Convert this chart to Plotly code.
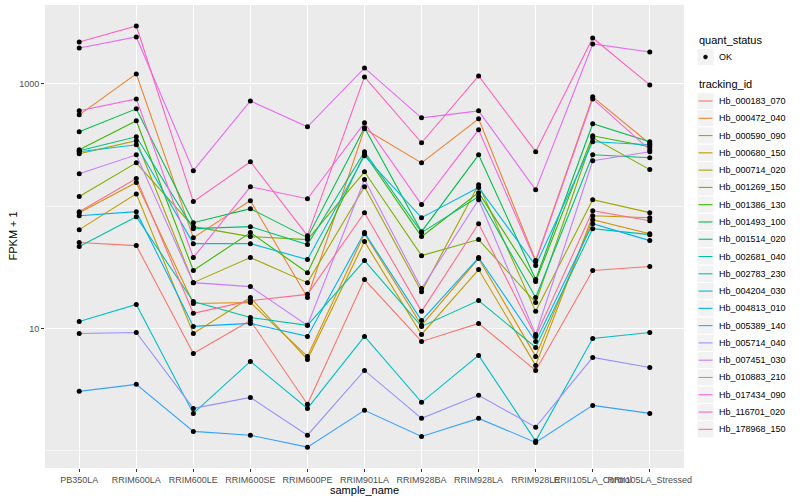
import plotly.graph_objects as go

samples = ["PB350LA", "RRIM600LA", "RRIM600LE", "RRIM600SE", "RRIM600PE", "RRIM901LA",
           "RRIM928BA", "RRIM928LA", "RRIM928LE", "RRII105LA_Control", "RRII105LA_Stressed"]

tracking_ids = ["Hb_000183_070", "Hb_000472_040", "Hb_000590_090", "Hb_000680_150",
                "Hb_000714_020", "Hb_001269_150", "Hb_001386_130", "Hb_001493_100",
                "Hb_001514_020", "Hb_002681_040", "Hb_002783_230", "Hb_004204_030",
                "Hb_004813_010", "Hb_005389_140", "Hb_005714_040", "Hb_007451_030",
                "Hb_010883_210", "Hb_017434_090", "Hb_116701_020", "Hb_178968_150"]

colors = ["#F8766D", "#EA8331", "#D89000", "#C09B00", "#A3A500", "#7CAE00", "#39B600",
          "#00BB4E", "#00BF7D", "#00C1A3", "#00BFC4", "#00BAE0", "#00B0F6", "#35A2FF",
          "#9590FF", "#C77CFF", "#E76BF3", "#FA62DB", "#FF62BC", "#FF6C91"]

# FPKM + 1 per tracking_id, in sample order
Hb_000183_070 = [50.4, 47.6, 6.25, 11.6, 2.40, 25.1, 7.83, 11.0, 4.54, 29.8, 32.1]
Hb_000472_040 = [558, 1207, 55.3, 111, 17.9, 429, 226, 518, 35.9, 783, 324]
Hb_000590_090 = [88.5, 156, 16.0, 16.3, 5.91, 59.6, 10.6, 37.3, 5.91, 77.6, 59.6]
Hb_000680_150 = [64.3, 126, 9.10, 17.9, 5.58, 51.3, 8.93, 30.3, 4.99, 83.6, 80.5]
Hb_000714_020 = [268, 343, 23.7, 38.0, 23.7, 144, 20.0, 150, 13.8, 113, 88.5]
Hb_001269_150 = [120, 226, 68.0, 56.4, 53.3, 191, 39.4, 53.3, 16.3, 362, 199]
Hb_001386_130 = [289, 499, 29.8, 60.8, 28.6, 268, 56.4, 129, 24.2, 376, 306]
Hb_001493_100 = [406, 625, 73.3, 95.4, 55.3, 437, 61.9, 263, 25.1, 472, 336]
Hb_001514_020 = [284, 369, 65.5, 68.0, 48.5, 279, 60.8, 120, 17.9, 263, 249]
Hb_002681_040 = [46.7, 82.1, 16.6, 12.3, 10.6, 35.9, 10.4, 16.9, 7.00, 65.5, 58.5]
Hb_002783_230 = [11.4, 15.7, 2.02, 5.38, 2.22, 8.61, 2.49, 6.02, 1.20, 8.29, 9.27]
Hb_004204_030 = [279, 318, 49.4, 49.4, 36.6, 258, 80.5, 142, 32.7, 336, 318]
Hb_004813_010 = [83.6, 90.2, 10.4, 11.0, 8.61, 60.8, 11.6, 38.0, 7.83, 71.9, 52.3]
Hb_005389_140 = [3.06, 3.49, 1.44, 1.34, 1.07, 2.14, 1.31, 1.84, 1.17, 2.35, 2.02]
Hb_005714_040 = [9.10, 9.27, 2.22, 2.73, 1.34, 4.54, 1.84, 2.84, 1.56, 5.80, 4.80]
Hb_007451_030 = [184, 263, 23.7, 22.0, 10.6, 165, 21.2, 113, 8.93, 235, 279]
Hb_010883_210 = [1967, 2420, 195, 726, 446, 1351, 528, 602, 136, 2121, 1825]
Hb_017434_090 = [602, 754, 38.0, 144, 115, 480, 103, 421, 35.2, 754, 289]
Hb_116701_020 = [2202, 2975, 109, 231, 57.4, 1140, 330, 1162, 279, 2374, 981]
Hb_178968_150 = [90.2, 168, 13.3, 16.9, 19.0, 88.5, 13.8, 71.9, 8.61, 91.9, 76.1]

series = [Hb_000183_070, Hb_000472_040, Hb_000590_090, Hb_000680_150, Hb_000714_020,
          Hb_001269_150, Hb_001386_130, Hb_001493_100, Hb_001514_020, Hb_002681_040,
          Hb_002783_230, Hb_004204_030, Hb_004813_010, Hb_005389_140, Hb_005714_040,
          Hb_007451_030, Hb_010883_210, Hb_017434_090, Hb_116701_020, Hb_178968_150]

quant_status = ["OK"]
y_ticks = [10, 1000]
y_minor = [1, 100, 10000]

FONT = "Liberation Sans, Arial, sans-serif"

# panel geometry in pixels (for the hand-drawn ggplot-style legend and titles)
W, H = 800, 500
L, R, T, B = 45, 116, 5, 32
PW, PH = W - L - R, H - T - B


def px(x):
    return (x - L) / PW


def py(y):
    return (H - B - y) / PH


fig = go.Figure()

for tid, vals, col in zip(tracking_ids, series, colors):
    fig.add_trace(go.Scatter(
        x=samples, y=vals, mode="lines", name=tid,
        line=dict(color=col, width=1.1), showlegend=False,
    ))

all_x = [s for _ in series for s in samples]
all_y = [v for vals in series for v in vals]
fig.add_trace(go.Scatter(
    x=all_x, y=all_y, mode="markers", name=quant_status[0],
    marker=dict(color="black", size=5), showlegend=False,
))

shapes = []
annotations = []

# axis titles
annotations.append(dict(text="sample_name", x=px(L + PW / 2), y=py(490), xref="paper", yref="paper",
                        xanchor="center", yanchor="middle", showarrow=False,
                        font=dict(size=11, color="black", family=FONT)))
annotations.append(dict(text="FPKM + 1", x=px(12), y=py(T + PH / 2), xref="paper", yref="paper",
                        xanchor="center", yanchor="middle", showarrow=False, textangle=-90,
                        font=dict(size=11, color="black", family=FONT)))

# legend: quant_status
KX0, KX1 = 697, 714
annotations.append(dict(text="quant_status", x=px(KX0), y=py(40), xref="paper", yref="paper",
                        xanchor="left", yanchor="middle", showarrow=False,
                        font=dict(size=11, color="black", family=FONT)))
ok_c = 57
shapes.append(dict(type="rect", xref="paper", yref="paper", x0=px(KX0), x1=px(KX1),
                   y0=py(ok_c - 8.6), y1=py(ok_c + 8.6), fillcolor="#F2F2F2",
                   line=dict(color="white", width=1), layer="above"))
shapes.append(dict(type="circle", xref="paper", yref="paper", x0=px(703.5), x1=px(707.5),
                   y0=py(ok_c - 2), y1=py(ok_c + 2), fillcolor="black",
                   line=dict(color="black", width=0.5), layer="above"))
annotations.append(dict(text=quant_status[0], x=px(717), y=py(ok_c), xref="paper", yref="paper",
                        xanchor="left", yanchor="middle", showarrow=False,
                        font=dict(size=9, color="black", family=FONT)))

# legend: tracking_id
annotations.append(dict(text="tracking_id", x=px(KX0), y=py(84), xref="paper", yref="paper",
                        xanchor="left", yanchor="middle", showarrow=False,
                        font=dict(size=11, color="black", family=FONT)))
step = 17.28
for i, (tid, col) in enumerate(zip(tracking_ids, colors)):
    yc = 101 + i * step
    shapes.append(dict(type="rect", xref="paper", yref="paper", x0=px(KX0), x1=px(KX1),
                       y0=py(yc - step / 2), y1=py(yc + step / 2), fillcolor="#F2F2F2",
                       line=dict(color="white", width=1), layer="above"))
    shapes.append(dict(type="line", xref="paper", yref="paper", x0=px(KX0 + 1.5), x1=px(KX1 - 1.5),
                       y0=py(yc), y1=py(yc), line=dict(color=col, width=1.1), layer="above"))
    annotations.append(dict(text=tid, x=px(717), y=py(yc), xref="paper", yref="paper",
                            xanchor="left", yanchor="middle", showarrow=False,
                            font=dict(size=9, color="black", family=FONT)))

fig.update_layout(
    width=W, height=H,
    margin=dict(l=L, r=R, t=T, b=B, autoexpand=False),
    paper_bgcolor="white",
    plot_bgcolor="#EBEBEB",
    font=dict(family=FONT, size=9, color="#4D4D4D"),
    showlegend=False,
    hovermode=False,
    shapes=shapes,
    annotations=annotations,
    xaxis=dict(
        type="category",
        categoryorder="array", categoryarray=samples,
        tickmode="array", tickvals=samples, ticktext=samples,
        range=[-0.6, 10.6],
        tickangle=0, automargin=False,
        showgrid=True, gridcolor="white", gridwidth=1.1,
        zeroline=False, showline=False,
        ticks="outside", ticklen=3, tickcolor="#333333", tickwidth=1,
        tickfont=dict(size=9, color="#4D4D4D"),
    ),
    yaxis=dict(
        type="log",
        range=[-0.141, 3.645], automargin=False,
        tickmode="array", tickvals=y_ticks, ticktext=[str(v) for v in y_ticks],
        showgrid=True, gridcolor="white", gridwidth=1.1,
        minor=dict(tickmode="array", tickvals=y_minor, showgrid=True,
                   gridcolor="white", gridwidth=0.55, ticks=""),
        zeroline=False, showline=False,
        ticks="outside", ticklen=3, tickcolor="#333333", tickwidth=1,
        tickfont=dict(size=9, color="#4D4D4D"),
    ),
)

fig.write_html("out.html",
               config={"displayModeBar": False, "staticPlot": True},
               post_script="document.body.style.margin='0';document.body.style.padding='0';")
